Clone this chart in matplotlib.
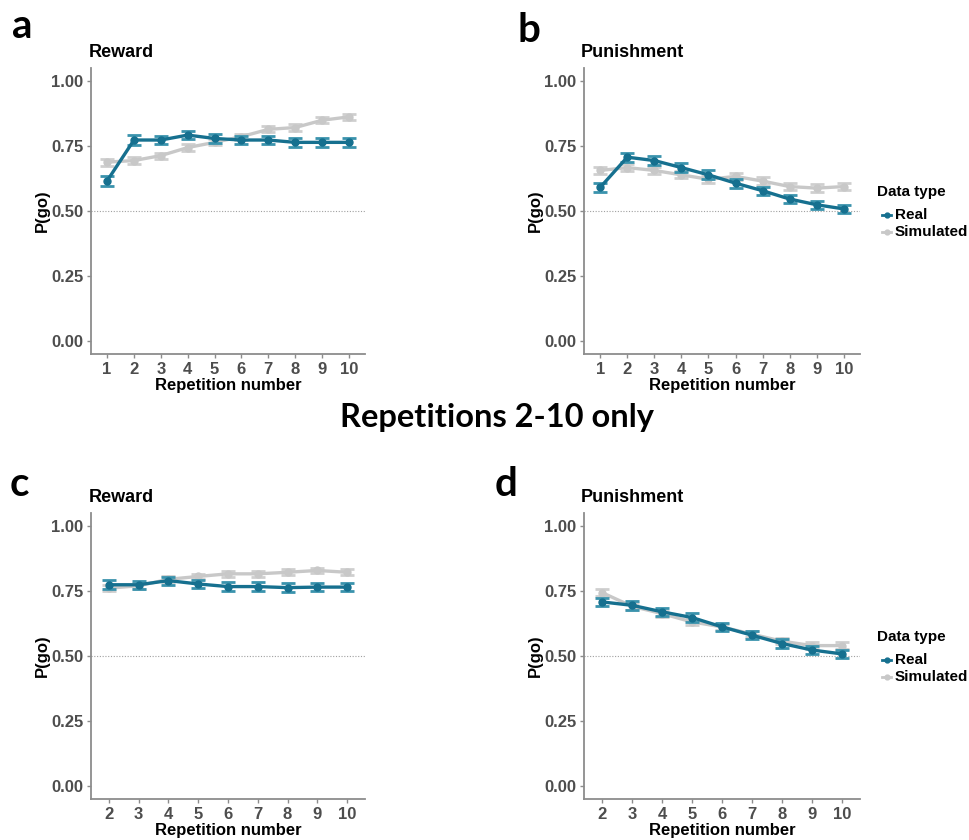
import matplotlib
matplotlib.use('Agg')
import numpy as np
import matplotlib.pyplot as plt
from matplotlib.lines import Line2D

# Data
reps_all = [1, 2, 3, 4, 5, 6, 7, 8, 9, 10]
reps_late = [2, 3, 4, 5, 6, 7, 8, 9, 10]

reward_real = [0.616, 0.773, 0.773, 0.792, 0.779, 0.773, 0.773, 0.764, 0.764, 0.764]
reward_sim = [0.688, 0.694, 0.713, 0.744, 0.764, 0.786, 0.814, 0.821, 0.849, 0.862]
reward_real_se = [0.018, 0.018, 0.016, 0.015, 0.016, 0.016, 0.016, 0.016, 0.016, 0.016]
reward_sim_se = [0.013, 0.013, 0.012, 0.012, 0.012, 0.012, 0.012, 0.012, 0.012, 0.012]

punish_real = [0.591, 0.707, 0.694, 0.667, 0.639, 0.607, 0.578, 0.546, 0.524, 0.508]
punish_sim = [0.656, 0.667, 0.656, 0.639, 0.622, 0.633, 0.615, 0.594, 0.588, 0.594]
punish_real_se = [0.018, 0.018, 0.017, 0.016, 0.017, 0.017, 0.016, 0.017, 0.016, 0.016]
punish_sim_se = [0.014, 0.014, 0.014, 0.013, 0.014, 0.014, 0.014, 0.014, 0.014, 0.014]

reward2_real = [0.774, 0.774, 0.790, 0.777, 0.767, 0.767, 0.763, 0.765, 0.765]
reward2_sim = [0.761, 0.770, 0.795, 0.806, 0.816, 0.816, 0.822, 0.829, 0.822]
reward2_real_se = [0.018, 0.016, 0.015, 0.017, 0.017, 0.016, 0.017, 0.016, 0.016]
reward2_sim_se = [0.012, 0.012, 0.011, 0.011, 0.011, 0.011, 0.011, 0.011, 0.011]

punish2_real = [0.708, 0.695, 0.670, 0.648, 0.612, 0.580, 0.548, 0.523, 0.508]
punish2_sim = [0.744, 0.691, 0.663, 0.631, 0.612, 0.584, 0.557, 0.540, 0.540]
punish2_real_se = [0.017, 0.017, 0.016, 0.017, 0.016, 0.016, 0.016, 0.016, 0.017]
punish2_sim_se = [0.013, 0.013, 0.012, 0.012, 0.012, 0.012, 0.012, 0.012, 0.014]

legend_labels = ['Real', 'Simulated']

REAL = '#16708f'
REAL_ERR = '#3a93ad'
SIM = '#c8c8c8'
SIM_ERR = '#cfcfcf'
TICK_C = '#4d4d4d'
AX_C = '#8c8c8c'

plt.rcParams['font.family'] = ['Liberation Sans', 'DejaVu Sans']
plt.rcParams['font.weight'] = 'bold'

W, H = 969, 840
fig = plt.figure(figsize=(W / 100, H / 100), dpi=100)

def px_axes(left, top, right, bottom):
    return fig.add_axes([left / W, 1 - bottom / H, (right - left) / W, (bottom - top) / H])

def panel(ax, x, real, real_se, sim, sim_se, title):
    ax.axhline(0.5, color='#a0a0a0', lw=0.8, ls=(0, (1, 1.5)), zorder=1)
    ax.errorbar(x, sim, yerr=sim_se, color=SIM, ecolor=SIM_ERR, lw=2.4, elinewidth=2,
                capsize=4.8, capthick=2, marker='o', ms=5, zorder=2)
    ax.errorbar(x, real, yerr=real_se, color=REAL, ecolor=REAL_ERR, lw=2.4, elinewidth=2,
                capsize=4.8, capthick=2, marker='o', ms=5, zorder=3)
    ax.set_xlim(x[0] - 0.6, x[-1] + 0.6)
    ax.set_ylim(-0.05, 1.05)
    ax.set_xticks(x)
    ax.set_yticks([0, 0.25, 0.5, 0.75, 1.0])
    ax.set_yticklabels(['0.00', '0.25', '0.50', '0.75', '1.00'])
    for s in ['top', 'right']:
        ax.spines[s].set_visible(False)
    for s in ['left', 'bottom']:
        ax.spines[s].set_color(AX_C)
        ax.spines[s].set_linewidth(1.3)
    ax.tick_params(colors=AX_C, labelcolor=TICK_C, labelsize=12, length=3, width=1, pad=2.5)
    for lab in ax.get_xticklabels() + ax.get_yticklabels():
        lab.set_fontweight('bold')
    ax.set_xlabel('Repetition number', fontsize=12, fontweight='bold', labelpad=1)
    ax.set_ylabel('P(go)', fontsize=12, fontweight='bold', labelpad=1)
    ax.set_title(title, loc='left', fontsize=13, fontweight='bold', x=-0.01, pad=8)

def legend(top):
    # top = pixel y of the "Data type" title centre
    fig.text(877 / W, 1 - top / H, 'Data type', fontsize=11, fontweight='bold', va='center')
    for i, (lab, col) in enumerate(zip(legend_labels, [REAL, SIM])):
        y = 1 - (top + 23 + 17 * i) / H
        fig.add_artist(Line2D([882 / W, 891 / W], [y, y], color=col, lw=2,
                              transform=fig.transFigure))
        fig.add_artist(Line2D([886.5 / W], [y], color=col, marker='o', ms=3.5,
                              transform=fig.transFigure))
        fig.text(895 / W, y, lab, fontsize=11, fontweight='bold', va='center')

ax_a = px_axes(91, 68, 365, 354)
panel(ax_a, reps_all, reward_real, reward_real_se, reward_sim, reward_sim_se, 'Reward')
ax_b = px_axes(584, 68, 860, 354)
panel(ax_b, reps_all, punish_real, punish_real_se, punish_sim, punish_sim_se, 'Punishment')
ax_c = px_axes(91, 513, 365, 799)
panel(ax_c, reps_late, reward2_real, reward2_real_se, reward2_sim, reward2_sim_se, 'Reward')
ax_d = px_axes(584, 513, 860, 799)
panel(ax_d, reps_late, punish2_real, punish2_real_se, punish2_sim, punish2_sim_se, 'Punishment')

legend(192)
legend(637)

# panel letters and middle title
for letter, x, y in [('a', 12, 38), ('b', 517, 42), ('c', 10, 496), ('d', 495, 496)]:
    fig.text(x / W, 1 - y / H, letter, fontsize=29, fontweight='bold', family=['Lato', 'DejaVu Sans'])
fig.text(497 / W, 1 - 418 / H, 'Repetitions 2-10 only', ha='center', va='center',
         fontsize=23.5, fontweight='bold', family=['Lato', 'DejaVu Sans'])

fig.savefig('out.png', dpi=100)
